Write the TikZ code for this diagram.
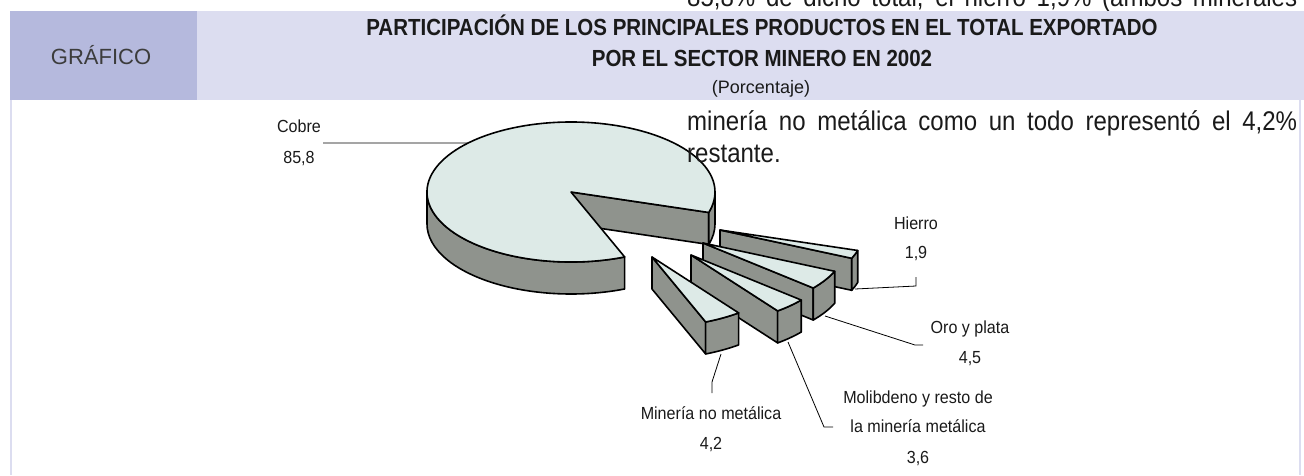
\documentclass[tikz,border=0pt]{standalone}
\usepackage{fontspec}
\setmainfont{Liberation Sans}
\newfontfamily\titlefont{Liberation Sans}[FakeStretch=0.88]
\newfontfamily\lblfont{Liberation Sans}[FakeStretch=0.92]
\newfontfamily\parafont{Liberation Sans}[FakeStretch=0.89]
\definecolor{hdrdark}{HTML}{B5B9DD}
\definecolor{hdrlight}{HTML}{DCDDF0}
\definecolor{pietop}{HTML}{DDEAE7}
\definecolor{pieside}{HTML}{8F938D}
\definecolor{txt}{HTML}{1A1A1A}
\tikzset{
  topface/.style={fill=pietop,draw=black,line width=1.6pt,line join=round},
  sideface/.style={fill=pieside,draw=black,line width=1.6pt,line join=round},
  leader/.style={draw=black,line width=0.8pt},
  lbl/.style={inner sep=0pt,anchor=base,text=txt,font=\lblfont\fontsize{17.5}{20}\selectfont},
  para/.style={inner sep=0pt,anchor=base west,text=txt,font=\parafont\fontsize{27}{32}\selectfont},
  ttl/.style={inner sep=0pt,anchor=base,text=txt,font=\titlefont\bfseries\fontsize{23.3}{28}\selectfont},
}
% #1 cx, #2 cy, #3 s1, #4 s2 (screen parametric angles, y downward)
\newcommand\myslice[4]{%
  \begin{scope}[shift={(#1,#2)}]
    \path[sideface] (0,0) -- (#4:144 and 70) -- ++(0,32) -- (0,32) -- cycle;
    \path[sideface] (#3:144 and 70) arc[start angle=#3,end angle=#4,x radius=144,y radius=70]
      -- ++(0,32) arc[start angle=#4,end angle=#3,x radius=144,y radius=70] -- cycle;
    \path[topface] (0,0) -- (#3:144 and 70) arc[start angle=#3,end angle=#4,x radius=144,y radius=70] -- cycle;
  \end{scope}}
\begin{document}
\begin{tikzpicture}[x=1pt,y=-1pt]
\useasboundingbox (0,0) rectangle (1304,475);
\fill[white] (0,0) rectangle (1304,475);
% text line cut by the top edge
\node[para] (p0) at (687,6) {\makebox[610pt][s]{85,8\% de dicho total, el hierro 1,9\% (ambos minerales}};
% header
\fill[hdrlight] (197,11) rectangle (1304,100);
\fill[hdrdark] (10,11) rectangle (197,100);
\draw[hdrlight,line width=2pt] (11,100) -- (11,475);
\draw[hdrlight,line width=1.5pt] (1300,100) -- (1300,475);
\node[inner sep=0pt,anchor=base,text=txt!85,font=\fontsize{22}{26}\selectfont] (graf) at (101,64) {GRÁFICO};
\node[ttl] (t1) at (762,35) {PARTICIPACIÓN DE LOS PRINCIPALES PRODUCTOS EN EL TOTAL EXPORTADO};
\node[ttl] (t2) at (762,66) {POR EL SECTOR MINERO EN 2002};
\node[inner sep=0pt,anchor=base,text=txt,font=\fontsize{18}{20}\selectfont] (t3) at (761,93) {(Porcentaje)};
% Cobre
\begin{scope}[shift={(571,192)}]
  \path[sideface] (0,0) -- (377:144 and 70) -- ++(0,32) -- (0,32) -- cycle;
  \path[sideface] (360:144 and 70) arc[start angle=360,end angle=377,x radius=144,y radius=70]
    -- ++(0,32) arc[start angle=377,end angle=360,x radius=144,y radius=70] -- cycle;
  \path[sideface] (68.12:144 and 70) arc[start angle=68.12,end angle=180,x radius=144,y radius=70]
    -- ++(0,32) arc[start angle=180,end angle=68.12,x radius=144,y radius=70] -- cycle;
  \path[topface] (0,0) -- (68.12:144 and 70) arc[start angle=68.12,end angle=377,x radius=144,y radius=70] -- cycle;
  \coordinate (cobreP) at (224.4:144 and 70);
\end{scope}
% exploded slices
\myslice{720}{230}{17}{23.84}
\myslice{703}{243}{23.84}{40.04}
\myslice{691}{255}{40.04}{53}
\myslice{652}{257}{53}{68.12}
% labels
\node[lbl] (cobre) at (299,132) {Cobre};
\node[lbl] (cobrev) at (299,163) {85,8};
\coordinate (cobreL) at (323,143);
\draw[leader] (cobreL) -- (cobreP);

\node[lbl] (hierro) at (916,229) {Hierro};
\node[lbl] (hierrov) at (916,258) {1,9};
\coordinate (hA) at (855,289);
\coordinate (hB) at (916,286);
\coordinate (hC) at (916,277);
\draw[leader] (hA) -- (hB) -- (hC);

\node[lbl] (oro) at (970,333) {Oro y plata};
\node[lbl] (orov) at (970,363) {4,5};
\coordinate (oA) at (825,316);
\coordinate (oB) at (915,345);
\coordinate (oC) at (923,345);
\draw[leader] (oA) -- (oB) -- (oC);

\node[lbl] (molib) at (918,403) {Molibdeno y resto de};
\node[lbl] (molib2) at (918,432) {la minería metálica};
\node[lbl] (molibv) at (918,463) {3,6};
\coordinate (mA) at (788,342);
\coordinate (mB) at (824,427);
\coordinate (mC) at (833,427);
\draw[leader] (mA) -- (mB) -- (mC);

\node[lbl] (nomet) at (711,419) {Minería no metálica};
\node[lbl] (nometv) at (711,449) {4,2};
\coordinate (nA) at (721,354);
\coordinate (nB) at (712,382);
\coordinate (nC) at (712,393);
\draw[leader] (nA) -- (nB) -- (nC);
% overlapping paragraph text
\node[para] (p1) at (687,130) {\makebox[610pt][s]{minería no metálica como un todo representó el 4,2\%}};
\node[para] (p2) at (687,162) {restante.};
\end{tikzpicture}
\end{document}
